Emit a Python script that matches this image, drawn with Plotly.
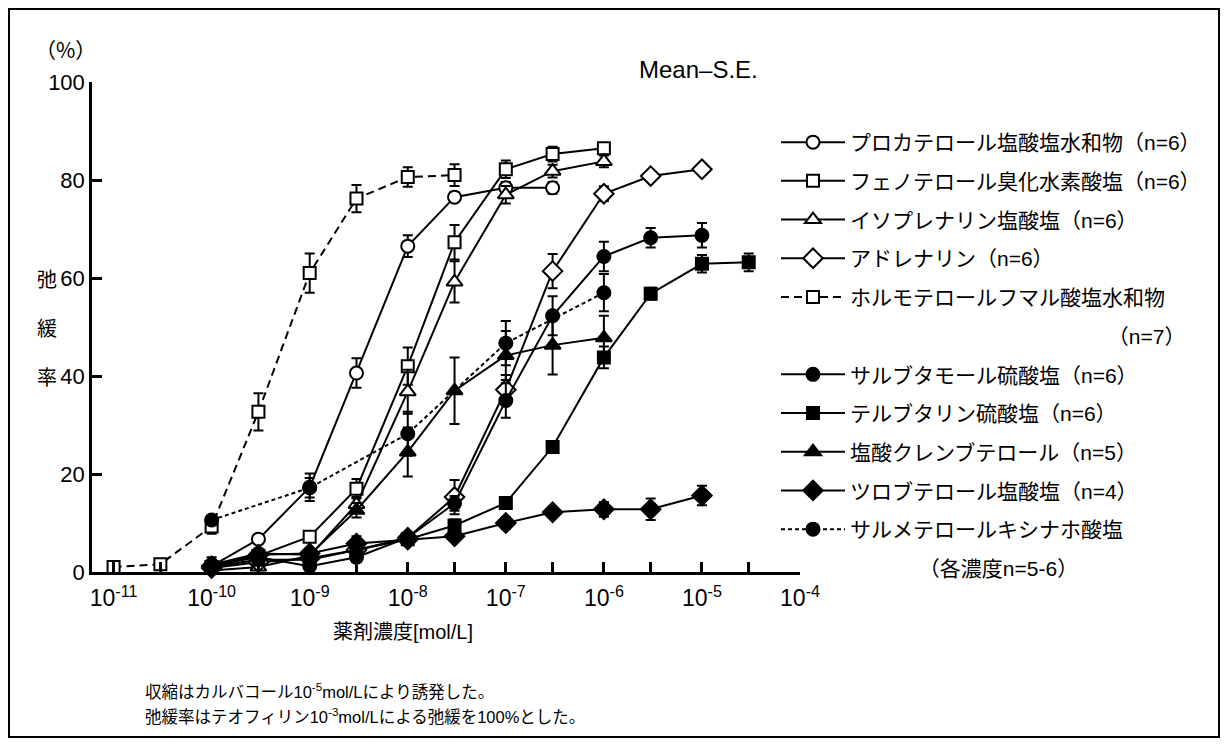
import plotly.graph_objects as go

# ---------------- data ----------------
procaterol_x = [1e-10, 3e-10, 1e-9, 3e-9, 1e-8, 3e-8, 1e-7, 3e-7]
procaterol_y = [1.2, 6.7, 17.3, 40.6, 66.5, 76.5, 78.4, 78.4]
procaterol_se = [0.8, 0.5, 2.8, 3.0, 2.2, 1.0, 1.2, 1.2]

fenoterol_x = [1e-10, 3e-10, 1e-9, 3e-9, 1e-8, 3e-8, 1e-7, 3e-7, 1e-6]
fenoterol_y = [1.0, 3.3, 7.2, 17.0, 42.0, 67.3, 82.2, 85.3, 86.5]
fenoterol_se = [0.5, 0.8, 0.8, 2.0, 3.8, 3.5, 1.8, 1.5, 0.6]

isoprenaline_x = [1e-10, 3e-10, 1e-9, 3e-9, 1e-8, 3e-8, 1e-7, 3e-7, 1e-6]
isoprenaline_y = [0.3, 1.0, 3.3, 13.8, 36.8, 59.2, 77.0, 81.8, 83.8]
isoprenaline_se = [0.3, 0.5, 0.8, 1.5, 4.5, 4.2, 1.8, 1.3, 1.2]

adrenaline_x = [1e-10, 3e-10, 1e-9, 3e-9, 1e-8, 3e-8, 1e-7, 3e-7, 1e-6, 3e-6, 1e-5]
adrenaline_y = [0.8, 2.0, 2.8, 4.5, 7.0, 15.3, 37.2, 61.4, 77.2, 80.8, 82.2]
adrenaline_se = [0.5, 0.5, 0.5, 0.8, 0.8, 3.5, 3.0, 3.5, 1.5, 0.7, 0.7]

formoterol_x = [1e-11, 3e-11, 1e-10, 3e-10, 1e-9, 3e-9, 1e-8, 3e-8]
formoterol_y = [1.0, 1.6, 9.3, 32.7, 61.0, 76.2, 80.6, 81.0]
formoterol_se = [0.3, 0.3, 1.5, 3.8, 4.0, 2.8, 2.0, 2.2]

salbutamol_x = [1e-10, 3e-10, 1e-9, 3e-9, 1e-8, 3e-8, 1e-7, 3e-7, 1e-6, 3e-6, 1e-5]
salbutamol_y = [1.5, 3.0, 1.2, 3.0, 7.0, 14.0, 35.0, 52.3, 64.4, 68.2, 68.7]
salbutamol_se = [1.0, 0.8, 0.8, 1.0, 1.0, 1.5, 3.5, 4.0, 3.0, 2.0, 2.5]

terbutaline_x = [1e-10, 3e-10, 1e-9, 3e-9, 1e-8, 3e-8, 1e-7, 3e-7, 1e-6, 3e-6, 1e-5, 3e-5]
terbutaline_y = [1.0, 2.5, 2.5, 4.5, 6.7, 9.5, 14.1, 25.5, 43.8, 56.8, 62.9, 63.2]
terbutaline_se = [0.5, 0.5, 0.5, 0.8, 0.8, 1.2, 0.8, 1.0, 2.2, 1.2, 1.8, 1.8]

clenbuterol_x = [1e-10, 3e-10, 1e-9, 3e-9, 1e-8, 3e-8, 1e-7, 3e-7, 1e-6]
clenbuterol_y = [1.5, 3.8, 3.5, 12.6, 24.5, 37.0, 44.2, 46.3, 47.8]
clenbuterol_se = [1.5, 1.0, 1.0, 1.5, 5.0, 6.8, 5.0, 6.0, 4.5]

tulobuterol_x = [1e-10, 3e-10, 1e-9, 3e-9, 1e-8, 3e-8, 1e-7, 3e-7, 1e-6, 3e-6, 1e-5]
tulobuterol_y = [1.2, 3.5, 3.8, 5.8, 6.6, 7.3, 10.0, 12.2, 12.8, 12.8, 15.6]
tulobuterol_se = [0.8, 0.5, 0.8, 1.5, 0.8, 0.8, 1.2, 0.8, 1.5, 2.2, 2.0]

salmeterol_x = [1e-10, 1e-9, 1e-8, 1e-7, 1e-6]
salmeterol_y = [10.6, 17.2, 28.2, 46.7, 57.0]
salmeterol_se = [1.0, 2.0, 4.5, 4.5, 3.8]

names = [
    "プロカテロール塩酸塩水和物（n=6）",
    "フェノテロール臭化水素酸塩（n=6）",
    "イソプレナリン塩酸塩（n=6）",
    "アドレナリン（n=6）",
    "ホルモテロールフマル酸塩水和物",
    "サルブタモール硫酸塩（n=6）",
    "テルブタリン硫酸塩（n=6）",
    "塩酸クレンブテロール（n=5）",
    "ツロブテロール塩酸塩（n=4）",
    "サルメテロールキシナホ酸塩",
]
continuation = {4: "\u3000" * 12 + "\u00a0" + "（n=7）", 9: "\u3000" * 3 + "\u00a0" + "（各濃度n=5-6）"}

x_tickvals = [1e-11, 1e-10, 1e-9, 1e-8, 1e-7, 1e-6, 1e-5, 1e-4]
x_ticktext = ["10<sup>-11</sup>", "10<sup>-10</sup>", "10<sup>-9</sup>", "10<sup>-8</sup>",
              "10<sup>-7</sup>", "10<sup>-6</sup>", "10<sup>-5</sup>", "10<sup>-4</sup>"]
x_half_ticks = [3e-11, 3e-10, 3e-9, 3e-8, 3e-7, 3e-6, 3e-5]
y_tickvals = [0, 20, 40, 60, 80, 100]

# ---------------- styles ----------------
data = [
    (procaterol_x, procaterol_y, procaterol_se),
    (fenoterol_x, fenoterol_y, fenoterol_se),
    (isoprenaline_x, isoprenaline_y, isoprenaline_se),
    (adrenaline_x, adrenaline_y, adrenaline_se),
    (formoterol_x, formoterol_y, formoterol_se),
    (salbutamol_x, salbutamol_y, salbutamol_se),
    (terbutaline_x, terbutaline_y, terbutaline_se),
    (clenbuterol_x, clenbuterol_y, clenbuterol_se),
    (tulobuterol_x, tulobuterol_y, tulobuterol_se),
    (salmeterol_x, salmeterol_y, salmeterol_se),
]
styles = [
    ("circle", 13, "white", "solid"),
    ("square", 12, "white", "solid"),
    ("triangle-up", 14, "white", "solid"),
    ("diamond", 15, "white", "solid"),
    ("square", 12, "white", "8px,5px"),
    ("circle", 13, "black", "solid"),
    ("square", 12, "black", "solid"),
    ("triangle-up", 14, "black", "solid"),
    ("diamond", 15, "black", "solid"),
    ("circle", 13, "black", "4px,3px"),
]

FONT = "Liberation Sans, Arial, Noto Sans CJK JP, sans-serif"
CJK = "Noto Sans CJK JP, sans-serif"

fig = go.Figure()
gi = 0
for i, ((xs, ys, se), (sym, size, fill, dash)) in enumerate(zip(data, styles)):
    fig.add_trace(go.Scatter(
        x=xs, y=ys, name=names[i], mode="lines+markers",
        legendgroup=f"g{gi}", legendrank=gi,
        line=dict(color="black", width=2, dash=dash),
        marker=dict(symbol=sym, size=size, color=fill, line=dict(color="black", width=2)),
        error_y=dict(type="data", array=se, symmetric=True, color="black", thickness=2, width=5),
        cliponaxis=False,
    ))
    gi += 1
    if i in continuation:
        fig.add_trace(go.Scatter(
            x=[None], y=[None], name=continuation[i], mode="lines",
            legendgroup=f"g{gi}", legendrank=gi,
            line=dict(color="rgba(0,0,0,0)", width=0), showlegend=True,
        ))
        gi += 1

# ---------------- layout ----------------
# page has an 8px body margin; plot area on the page spans x 92..800, y 82..572
OFF = 8
W, H = 1229 - OFF, 745 - OFF
L, T = 92 - OFF, 82 - OFF
R = W - (800 - OFF)
B = H - (572 - OFF)


def px(xp):
    return (xp - 92) / 708.0


def py(yp):
    return (572 - yp) / 490.0


fig.update_layout(
    width=W, height=H,
    margin=dict(l=L, r=R, t=T, b=B, autoexpand=False),
    paper_bgcolor="white", plot_bgcolor="white",
    font=dict(family=FONT, size=20, color="black"),
    showlegend=True,
    legend=dict(
        x=px(776), y=py(122), xanchor="left", yanchor="top",
        font=dict(family=FONT, size=21, color="black"),
        traceorder="grouped", tracegroupgap=8.4,
        itemwidth=64, itemsizing="trace",
        bgcolor="rgba(0,0,0,0)", borderwidth=0,
    ),
    xaxis=dict(
        type="log", range=[-11.22, -4],
        tickvals=x_tickvals, ticktext=x_ticktext,
        ticks="inside", ticklen=10, tickwidth=2.5, tickcolor="black",
        minor=dict(tickvals=x_half_ticks, ticks="inside", ticklen=10, tickwidth=2.5, tickcolor="black",
                   showgrid=False),
        ticklabelstandoff=4,
        showline=True, linecolor="black", linewidth=2.5,
        showgrid=False, zeroline=False,
        tickfont=dict(family=FONT, size=23),
    ),
    yaxis=dict(
        range=[0, 100], tickvals=y_tickvals,
        ticks="inside", ticklen=10, tickwidth=2.5, tickcolor="black",
        showline=True, linecolor="black", linewidth=2.5,
        showgrid=False, zeroline=False,
        tickfont=dict(family=FONT, size=22),
    ),
)

ann = [
    dict(text="Mean–S.E.", x=px(698), y=py(70), font=dict(family=FONT, size=24)),
    dict(text="（%）", x=px(65), y=py(49), font=dict(family=CJK, size=21)),
    dict(text="弛", x=px(47), y=py(278), font=dict(family=CJK, size=20)),
    dict(text="緩", x=px(47), y=py(327), font=dict(family=CJK, size=20)),
    dict(text="率", x=px(47), y=py(376), font=dict(family=CJK, size=20)),
    dict(text="薬剤濃度[mol/L]", x=px(403), y=py(632), font=dict(family=FONT, size=20)),
    dict(text="収縮はカルバコール10<sup>-5</sup>mol/Lにより誘発した。", x=px(143), y=py(691),
         xanchor="left", font=dict(family=FONT, size=16.5)),
    dict(text="弛緩率はテオフィリン10<sup>-3</sup>mol/Lによる弛緩を100%とした。", x=px(143), y=py(716),
         xanchor="left", font=dict(family=FONT, size=16.5)),
]
for a in ann:
    a.setdefault("xanchor", "center")
    fig.add_annotation(xref="paper", yref="paper", yanchor="middle", showarrow=False, **a)

fig.add_shape(type="rect", xref="paper", yref="paper",
              x0=px(9), x1=px(1219), y0=py(737), y1=py(9),
              line=dict(color="black", width=2), fillcolor="rgba(0,0,0,0)", layer="below")

fig.write_html("out.html")
